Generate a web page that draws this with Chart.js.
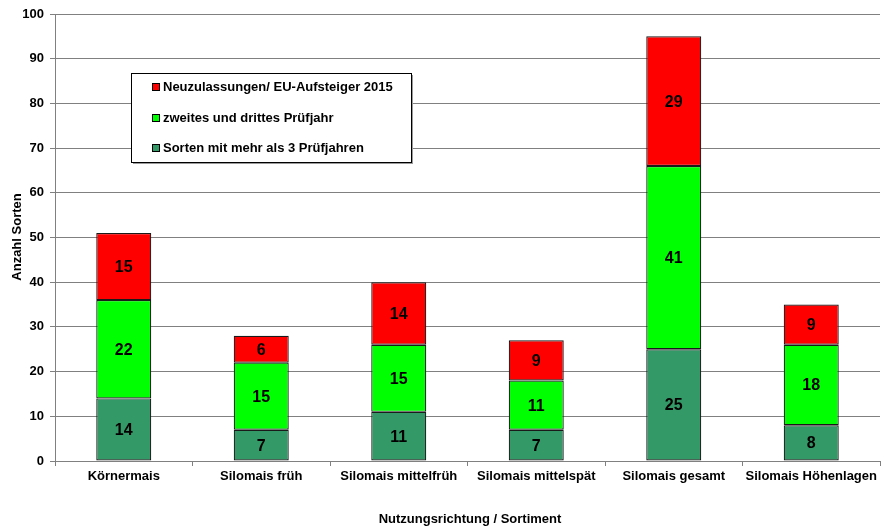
<!DOCTYPE html>
<html><head><meta charset="utf-8">
<script src="https://cdn.jsdelivr.net/npm/chart.js@4.4.0/dist/chart.umd.min.js"></script>
<style>html,body{margin:0;padding:0;background:#fff}#wrap{width:884px;height:531px}</style>
</head><body><div id="wrap"><canvas id="c" width="884" height="531"></canvas></div>
<script>
const categories = ["Körnermais","Silomais früh","Silomais mittelfrüh","Silomais mittelspät","Silomais gesamt","Silomais Höhenlagen"];
const sortenMehrAls3 = [14,7,11,7,25,8];
const zweitesDrittes = [22,15,15,11,41,18];
const neuzulassungen = [15,6,14,9,29,9];
const yTicks = [0,10,20,30,40,50,60,70,80,90,100];
const seriesNames = ["Sorten mit mehr als 3 Prüfjahren","zweites und drittes Prüfjahr","Neuzulassungen/ EU-Aufsteiger 2015"];
const FONT = "'Liberation Sans', Arial, sans-serif";

const labelsPlugin = {
  id:'labels',
  afterDatasetsDraw(chart){
    const ctx = chart.ctx;
    ctx.save();
    ctx.font = "bold 16px " + FONT;
    ctx.fillStyle = '#000';
    ctx.textAlign='center'; ctx.textBaseline='middle';
    chart.data.datasets.forEach((ds,i)=>{
      const meta = chart.getDatasetMeta(i);
      meta.data.forEach((bar,j)=>{
        const y = (bar.y + bar.base)/2;
        ctx.fillText(String(ds.data[j]), bar.x, y+1);
      });
    });
    ctx.restore();
  }
};
const legendPlugin = {
  id:'customLegend',
  afterDraw(chart){
    const ctx = chart.ctx;
    ctx.save();
    const x=131,y=73,w=280,h=89;
    ctx.fillStyle='#9a9a9a';
    ctx.fillRect(x+2,y+2,w,h);
    ctx.fillStyle='#fff';
    ctx.fillRect(x,y,w,h);
    ctx.strokeStyle='#000'; ctx.lineWidth=1;
    ctx.strokeRect(x+0.5,y+0.5,w,h);
    const order=[2,1,0];
    const ys=[87,118,148];
    ctx.font="bold 13px "+FONT;
    ctx.textBaseline='middle'; ctx.textAlign='left';
    order.forEach((di,k)=>{
      const ds=chart.data.datasets[di];
      ctx.fillStyle=ds.backgroundColor;
      ctx.fillRect(152,ys[k]-4,8,8);
      ctx.strokeStyle='#000';
      ctx.strokeRect(152.5,ys[k]-3.5,7,7);
      ctx.fillStyle='#000';
      ctx.fillText(ds.label,163,ys[k]);
    });
    // axis titles
    ctx.font="bold 13px "+FONT;
    ctx.textAlign='center';
    ctx.fillText("Nutzungsrichtung / Sortiment",470,519);
    ctx.translate(17,237);
    ctx.rotate(-Math.PI/2);
    ctx.fillText("Anzahl Sorten",0,0);
    ctx.restore();
  }
};

new Chart(document.getElementById('c'),{
  type:'bar',
  data:{
    labels:categories,
    datasets:[
      {label:seriesNames[0],data:sortenMehrAls3,backgroundColor:'#339966',borderColor:'#1a1a1a',borderWidth:1.2,borderSkipped:false},
      {label:seriesNames[1],data:zweitesDrittes,backgroundColor:'#00ff00',borderColor:'#1a1a1a',borderWidth:1.2,borderSkipped:false},
      {label:seriesNames[2],data:neuzulassungen,backgroundColor:'#ff0000',borderColor:'#1a1a1a',borderWidth:1.2,borderSkipped:false}
    ]
  },
  options:{
    responsive:false,animation:false,
    layout:{padding:{top:14,right:4,left:0,bottom:0}},
    categoryPercentage:1.0,barPercentage:0.4,
    plugins:{legend:{display:false},tooltip:{enabled:false}},
    scales:{
      x:{stacked:true,
        grid:{display:true,drawOnChartArea:false,drawTicks:true,tickLength:5,color:'#808080',offset:true},
        border:{color:'#808080',width:1},
        ticks:{color:'#000',font:{family:FONT,weight:'bold',size:13},padding:3,maxRotation:0,autoSkip:false},
        afterFit(s){s.height=70;}
      },
      y:{stacked:true,min:0,max:100,
        afterBuildTicks(s){s.ticks=yTicks.map(v=>({value:v}));},
        grid:{color:'#808080',tickLength:5,drawTicks:true},
        border:{color:'#808080',width:1},
        ticks:{color:'#000',font:{family:FONT,weight:'bold',size:13},padding:6},
        afterFit(s){s.width=55;}
      }
    }
  },
  plugins:[labelsPlugin,legendPlugin]
});
</script></body></html>
